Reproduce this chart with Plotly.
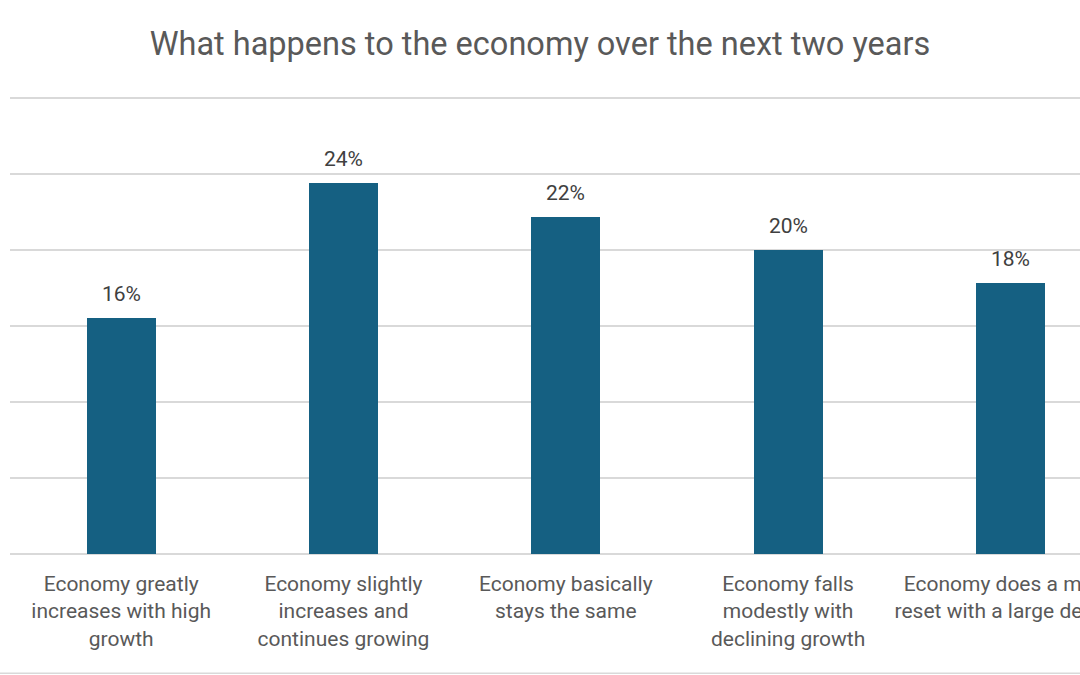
import plotly.graph_objects as go

categories = [
    "Economy greatly<br>increases with high<br>growth",
    "Economy slightly<br>increases and<br>continues growing",
    "Economy basically<br>stays the same",
    "Economy falls<br>modestly with<br>declining growth",
    "Economy does a major<br>reset with a large decline",
]
values = [15.5, 24.4, 22.2, 20.0, 17.8]
labels = ["16%", "24%", "22%", "20%", "18%"]

title = "What happens to the economy over the next two years"
FONT = "Roboto"
GREY = "#595959"

x_idx = list(range(len(categories)))

fig = go.Figure(
    go.Bar(
        x=x_idx,
        y=values,
        marker=dict(color="#156082", line=dict(width=0)),
        width=0.31,
        hoverinfo="skip",
    )
)

for i, (v, lab) in enumerate(zip(values, labels)):
    fig.add_annotation(
        x=i, y=v, text=lab, showarrow=False, yanchor="bottom", yshift=10,
        font=dict(family=FONT, size=21, color="#404040"),
    )

fig.update_layout(
    width=1080,
    height=675,
    paper_bgcolor="white",
    plot_bgcolor="white",
    margin=dict(l=10, r=0, t=97, b=121, autoexpand=False),
    title=dict(
        text=title, x=0.5, xanchor="center", y=0.935, yanchor="middle",
        font=dict(family=FONT, size=32.5, color=GREY),
    ),
    showlegend=False,
    bargap=0,
)
fig.update_xaxes(
    tickmode="array",
    tickvals=x_idx,
    ticktext=categories,
    range=[-0.5, 4.313],
    automargin=False,
    showgrid=False,
    showline=False,
    ticks="",
    ticklabelstandoff=15,
    ticklabeloverflow="allow",
    tickfont=dict(family=FONT, size=21, color=GREY),
    zeroline=False,
)
fig.update_yaxes(
    range=[0, 30.07],
    tickvals=[0, 5, 10, 15, 20, 25, 30],
    automargin=False,
    showticklabels=False,
    showgrid=True,
    gridcolor="#d9d9d9",
    gridwidth=1.5,
    zeroline=True,
    zerolinecolor="#d9d9d9",
    zerolinewidth=1.5,
    showline=False,
)
fig.add_shape(
    type="line", xref="paper", yref="paper", x0=-0.02, x1=1.0,
    y0=-0.261, y1=-0.261, line=dict(color="#d9d9d9", width=1.5),
)

fig.write_html(
    "out.html",
    config={"displayModeBar": False},
    post_script="document.body.style.margin='0';document.body.style.overflow='hidden';",
)
